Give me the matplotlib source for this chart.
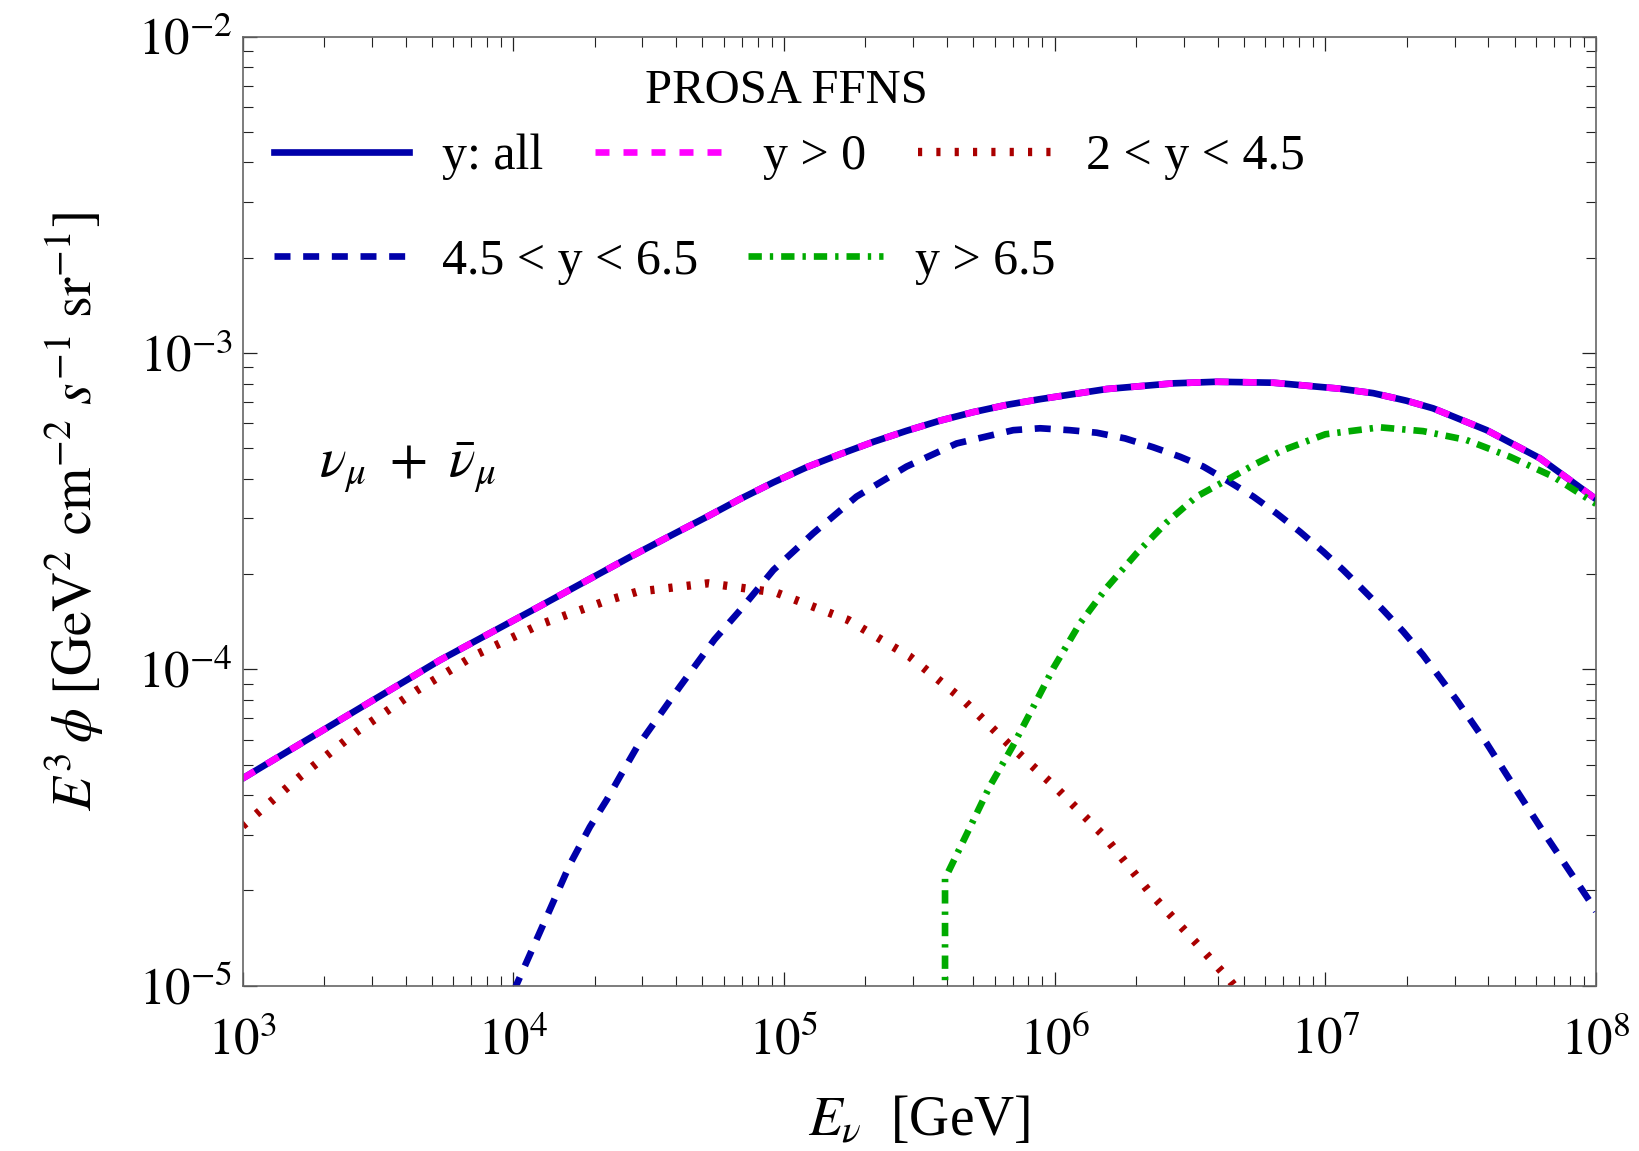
import numpy as np
import matplotlib.pyplot as plt
from matplotlib.ticker import LogLocator, FuncFormatter, NullFormatter

plt.rcParams['font.family'] = ['Liberation Serif', 'DejaVu Serif']
plt.rcParams['mathtext.fontset'] = 'stix'

# log10(E_nu / GeV) and log10(E^3 phi)
logE_all = [3.0, 3.36, 3.729, 4.099, 4.431, 4.591, 4.715, 4.837, 4.961, 5.084, 5.207, 5.330,
            5.453, 5.576, 5.699, 5.823, 5.946, 6.192, 6.438, 6.598, 6.808, 7.054, 7.177,
            7.300, 7.398, 7.596, 7.793, 8.0]
logF_all = [-4.345, -4.160, -3.971, -3.800, -3.645, -3.573, -3.518, -3.462, -3.409, -3.361,
            -3.320, -3.281, -3.246, -3.214, -3.187, -3.164, -3.146, -3.114, -3.096, -3.091,
            -3.094, -3.113, -3.127, -3.151, -3.175, -3.244, -3.333, -3.462]

logE_gt0 = logE_all
logF_gt0 = logF_all

logE_2_45 = [3.0, 3.212, 3.422, 3.643, 3.859, 4.099, 4.345, 4.456, 4.72, 4.97, 5.237, 5.463,
             5.565, 5.661, 5.838, 6.0, 6.184, 6.353, 6.523, 6.65, 6.70]
logF_2_45 = [-4.495, -4.339, -4.197, -4.067, -3.955, -3.858, -3.783, -3.755, -3.728, -3.757,
             -3.844, -3.959, -4.029, -4.096, -4.243, -4.370, -4.528, -4.707, -4.865, -4.986,
             -5.04]

logE_45_65 = [4.0, 4.07, 4.14, 4.21, 4.283, 4.345, 4.394, 4.456, 4.616, 4.743, 4.838, 4.961,
              5.108, 5.268, 5.453, 5.638, 5.847, 5.946, 6.056, 6.155, 6.26, 6.364, 6.463,
              6.549, 6.635, 6.734, 6.82, 6.906, 6.992, 7.066, 7.14, 7.214, 7.288, 7.361,
              7.485, 7.596, 7.706, 7.817, 7.99, 8.0]
logF_45_65 = [-5.02, -4.885, -4.75, -4.615, -4.498, -4.413, -4.339, -4.247, -4.054, -3.906,
              -3.813, -3.686, -3.570, -3.454, -3.359, -3.286, -3.244, -3.238, -3.244, -3.252,
              -3.270, -3.298, -3.328, -3.359, -3.402, -3.454, -3.507, -3.565, -3.628, -3.686,
              -3.749, -3.813, -3.881, -3.955, -4.097, -4.234, -4.382, -4.529, -4.750, -4.765]

logE_gt65 = [5.595, 5.595, 5.605, 5.689, 5.760, 5.845, 5.922, 5.996, 6.093, 6.193, 6.303,
             6.413, 6.524, 6.637, 6.746, 6.844, 7.0, 7.201, 7.361, 7.521, 7.682, 7.842, 8.0]
logF_gt65 = [-5.05, -4.66, -4.644, -4.496, -4.370, -4.243, -4.117, -3.995, -3.855, -3.741,
             -3.633, -3.536, -3.454, -3.401, -3.349, -3.307, -3.257, -3.235, -3.247, -3.275,
             -3.328, -3.391, -3.477]

labels = ['y: all', 'y > 0', '2 < y < 4.5', '4.5 < y < 6.5', 'y > 6.5']

blue = (0, 0, 0.667)
red = (0.667, 0, 0)
green = (0, 0.667, 0)
lw = 4.8

fig = plt.figure(figsize=(16.39, 11.51), dpi=100)
ax = fig.add_axes([0.148, 0.1436, 0.8258, 0.8246])


def pw(a):
    return 10 ** np.asarray(a)


l_all, = ax.plot(pw(logE_all), pw(logF_all), color=blue, lw=lw, label=labels[0])
l_gt0, = ax.plot(pw(logE_gt0), pw(logF_gt0), color='magenta', lw=lw,
                 dashes=(2.1, 2.1), label=labels[1])
l_red, = ax.plot(pw(logE_2_45), pw(logF_2_45), color=red, lw=6,
                 dashes=(0.5, 1.7), label=labels[2])
l_blue, = ax.plot(pw(logE_45_65), pw(logF_45_65), color=blue, lw=lw,
                  dashes=(2.4, 1.9), label=labels[3])
l_green, = ax.plot(pw(logE_gt65), pw(logF_gt65), color=green, lw=lw,
                   dashes=(2.0, 1.2, 0.5, 1.2), label=labels[4])

ax.set_xscale('log')
ax.set_yscale('log')
ax.set_xlim(1e3, 1e8)
ax.set_ylim(1e-5, 1e-2)

fmt = FuncFormatter(lambda v, p: r'$10^{%d}$' % round(np.log10(v)))
for axis in (ax.xaxis, ax.yaxis):
    axis.set_major_locator(LogLocator(base=10, numticks=12))
    axis.set_minor_locator(LogLocator(base=10, subs=np.arange(2, 10), numticks=30))
    axis.set_major_formatter(fmt)
    axis.set_minor_formatter(NullFormatter())

ax.tick_params(which='both', direction='in', top=True, right=True, color='#222222')
ax.tick_params(which='major', length=10, width=0.9, labelsize=36.5)
ax.tick_params(which='minor', length=7.5, width=0.8)
ax.tick_params(axis='x', pad=23)
ax.tick_params(axis='y', pad=7)
for sp in ax.spines.values():
    sp.set_color('#666666')
    sp.set_linewidth(1.2)

ax.set_xlabel(r'$E_\nu$  [GeV]', fontsize=40)
ax.set_ylabel(r'$E^3\,\phi\ [\mathrm{GeV}^2\ \mathrm{cm}^{-2}\ s^{-1}\ \mathrm{sr}^{-1}]$', fontsize=40)
ax.xaxis.set_label_coords(0.5, -0.115)
ax.yaxis.set_label_coords(-0.101, 0.5)

ax.text(0.0564, 0.545, r'$\nu_\mu\ +\ \bar{\nu}_\mu$', transform=ax.transAxes,
        fontsize=40, ha='left', va='center')

ax.text(0.4016, 0.9427, 'PROSA FFNS', transform=ax.transAxes,
        fontsize=35, ha='center', va='center')

leg1 = ax.legend(handles=[l_all, l_gt0, l_red], loc='center left',
                 bbox_to_anchor=(0.0233, 0.8731), ncol=3, frameon=False, fontsize=36,
                 handlelength=2.7, handletextpad=0.65, columnspacing=1.05,
                 borderpad=0, borderaxespad=0)
ax.add_artist(leg1)
ax.legend(handles=[l_blue, l_green], loc='center left',
          bbox_to_anchor=(0.0233, 0.7633), ncol=2, frameon=False, fontsize=36,
          handlelength=2.7, handletextpad=0.65, columnspacing=1.0,
          borderpad=0, borderaxespad=0)

fig.savefig('out.png', dpi=100)
